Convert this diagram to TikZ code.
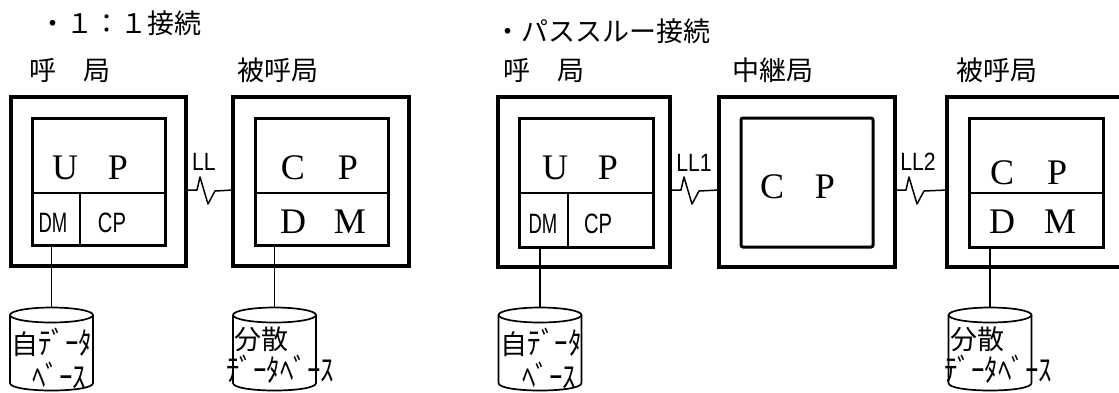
\documentclass[tikz,border=0pt]{standalone}
\usepackage{fontspec}
\setmainfont{Liberation Serif}
\newfontfamily\jp{Noto Sans CJK JP}
\newfontfamily\lsans{Liberation Sans}
\newcommand\hwk[1]{\scalebox{1}[1.15]{#1}}
\tikzset{
  x=1pt, y=-1pt,
  outerbox/.style={draw, line width=3.3pt, inner sep=0pt, outer sep=0pt},
  innerbox/.style={draw, line width=3pt, inner sep=0pt, outer sep=0pt},
  divline/.style={line width=1.6pt},
  link/.style={line width=1.5pt, line join=round},
  cyl/.style={line width=1.7pt},
  jplab/.style={font=\jp\fontsize{27pt}{30pt}\selectfont, inner sep=0pt, anchor=west},
  bigl/.style={font=\fontsize{36pt}{36pt}\selectfont, inner sep=0pt},
  smalll/.style={font=\lsans\fontsize{28pt}{28pt}\selectfont, inner sep=0pt},
  llab/.style={font=\lsans\fontsize{25pt}{25pt}\selectfont, inner sep=0pt},
  dbtext/.style={font=\jp\fontsize{27pt}{28pt}\selectfont, inner sep=0pt},
}
\begin{document}
\begin{tikzpicture}
\fill[white] (0,0) rectangle (1119,392);
\useasboundingbox (0,0) rectangle (1119,392);

% titles and station labels
\node[jplab] (t1) at (39,23) {・１：１接続};
\node[jplab] (t2) at (494,31) {・パススルー接続};
\node[jplab] (hA) at (29,70) {呼　局};
\node[jplab] (hB) at (237,70) {被呼局};
\node[jplab] (hC) at (503,70) {呼　局};
\node[jplab] (hD) at (732,70) {中継局};
\node[jplab] (hE) at (956,70) {被呼局};

% outer boxes
\node[outerbox, minimum width=175pt, minimum height=169pt] (A) at (98.5,181.5) {};
\node[outerbox, minimum width=176pt, minimum height=169pt] (B) at (321,181.5) {};
\node[outerbox, minimum width=172pt, minimum height=170pt] (C) at (584,182) {};
\node[outerbox, minimum width=176pt, minimum height=170pt] (D) at (807,182) {};
\node[outerbox, minimum width=174pt, minimum height=170pt] (E) at (1034,182) {};

% inner boxes
\node[innerbox, minimum width=133pt, minimum height=127pt] (Ai) at (98.5,181.5) {};
\node[innerbox, minimum width=133pt, minimum height=127pt] (Bi) at (321.5,181.5) {};
\node[innerbox, minimum width=134pt, minimum height=129pt] (Ci) at (586,182.5) {};
\node[innerbox, minimum width=132pt, minimum height=129pt, rounded corners=2pt] (Di) at (807,182.5) {};
\node[innerbox, minimum width=134pt, minimum height=129pt] (Ei) at (1036,182.5) {};

% dividers
\draw[divline] (Ai.west |- 0,193) -- (Ai.east |- 0,193);
\draw[divline] (80,193) -- (Ai.south -| 80,0);
\draw[divline] (Bi.west |- 0,193) -- (Bi.east |- 0,193);
\draw[divline] (Ci.west |- 0,193) -- (Ci.east |- 0,193);
\draw[divline] (568,193) -- (Ci.south -| 568,0);
\draw[divline] (Ei.west |- 0,193) -- (Ei.east |- 0,193);

% box texts
\node[bigl] (aU) at (65,168) {U};
\node[bigl] (aP) at (118,168) {P};
\node[smalll] (aDM) at (53,223) {\scalebox{0.66}[1]{DM}};
\node[smalll] (aCP) at (112,223) {\scalebox{0.72}[1]{CP}};

\node[bigl] (bC) at (293,168) {C};
\node[bigl] (bP) at (348,168) {P};
\node[bigl] (bD) at (293,222) {D};
\node[bigl] (bM) at (350,222) {M};

\node[bigl] (cU) at (555,168) {U};
\node[bigl] (cP) at (608,168) {P};
\node[smalll] (cDM) at (543,224) {\scalebox{0.66}[1]{DM}};
\node[smalll] (cCP) at (598,224) {\scalebox{0.72}[1]{CP}};

\node[bigl] (dC) at (772,187) {C};
\node[bigl] (dP) at (825,187) {P};

\node[bigl] (eC) at (1002,173) {C};
\node[bigl] (eP) at (1057,173) {P};
\node[bigl] (eD) at (1002,222) {D};
\node[bigl] (eM) at (1060,222) {M};

% logical links
\node[llab] (lAB) at (204,162) {\scalebox{0.85}[1]{LL}};
\node[llab] (lCD) at (694,163) {\scalebox{0.85}[1]{LL1}};
\node[llab] (lDE) at (918,162) {\scalebox{0.85}[1]{LL2}};

\draw[link] (A.east |- 0,190) -- ++(11,0) -- ++(3,-13) -- ++(8,27) -- ++(7,-13) -- (B.west |- 0,190);
\draw[link] (C.east |- 0,190) -- ++(11,0) -- ++(3,-13) -- ++(8,27) -- ++(7,-13) -- (D.west |- 0,190);
\draw[link] (D.east |- 0,190) -- ++(11,0) -- ++(3,-13) -- ++(8,27) -- ++(7,-13) -- (E.west |- 0,190);

% databases
\foreach \cx in {51.5,274.5,540,990}{
  \draw[cyl] (\cx,315) ellipse [x radius=41.5, y radius=7.5];
  \draw[cyl] ({\cx-41.5},315) -- ({\cx-41.5},383)
     .. controls ({\cx-41.5},393) and ({\cx+41.5},393) .. ({\cx+41.5},383)
     -- ({\cx+41.5},315);
}
\coordinate (cA) at (51.5,307.5);
\coordinate (cB) at (274.5,307.5);
\coordinate (cC) at (540,307.5);
\coordinate (cE) at (990,307.5);
\draw[link] (Ai.south -| cA) -- (cA);
\draw[link] (Bi.south -| cB) -- (cB);
\draw[link] (Ci.south -| cC) -- (cC);
\draw[link] (Ei.south -| cE) -- (cE);

\node[dbtext] (dbA1) at (52,342) {自\hwk{ﾃﾞｰﾀ}};
\node[dbtext] (dbA2) at (59,376) {\hwk{ﾍﾞｰｽ}};
\node[dbtext] (dbB1) at (261,339) {分散};
\node[dbtext] (dbB2) at (280,369) {\hwk{ﾃﾞｰﾀﾍﾞｰｽ}};
\node[dbtext] (dbC1) at (541,342) {自\hwk{ﾃﾞｰﾀ}};
\node[dbtext] (dbC2) at (549,376) {\hwk{ﾍﾞｰｽ}};
\node[dbtext] (dbE1) at (977,339) {分散};
\node[dbtext] (dbE2) at (998,369) {\hwk{ﾃﾞｰﾀﾍﾞｰｽ}};
\end{tikzpicture}
\end{document}
